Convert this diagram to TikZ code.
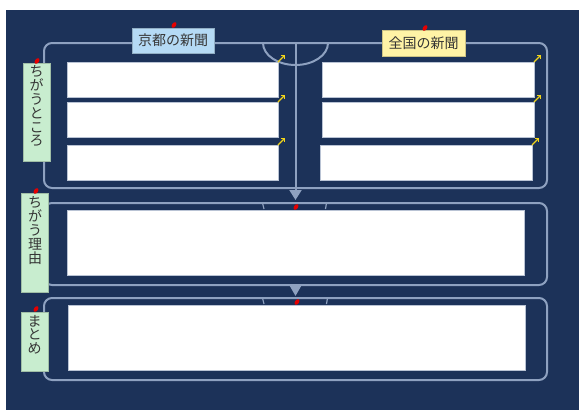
\documentclass[tikz,border=0pt]{standalone}
\usepackage{fontspec}
\newfontfamily\jpfont{Noto Sans CJK JP}
\usetikzlibrary{positioning}
\usetikzlibrary{arrows.meta,shapes.geometric}

\definecolor{navy}{HTML}{1C3259}
\definecolor{rail}{HTML}{8EA1C0}
\definecolor{slotedge}{HTML}{B9C3D4}
\definecolor{tagblue}{HTML}{B5DAF5}
\definecolor{tagyellow}{HTML}{FFF3A6}
\definecolor{taggreen}{HTML}{C8EDCF}
\definecolor{hintyellow}{HTML}{F2D51A}
\definecolor{inkgray}{HTML}{353535}

\begin{document}
\begin{tikzpicture} [x=1pt, y=-1pt,
	frame/.style={draw=rail, line width=2pt, rounded corners=8pt, minimum width=503pt, inner sep=0pt, outer sep=0pt},
	slot/.style={fill=white, draw=slotedge, line width=0.8pt, minimum height=35pt, inner sep=0pt, outer sep=0pt},
	wideslot/.style={slot, minimum width=457pt, minimum height=65pt},
	tag/.style={draw=#1!80!black, fill=#1, line width=0.6pt, inner sep=0pt},
	vtag/.style={tag=taggreen, minimum width=27pt},
	word/.style={text=inkgray, font=\jpfont\fontsize{14}{14}\selectfont},
	vword/.style={word, align=center, inner sep=0pt, font=\jpfont\fontsize{14}{13.8}\selectfont},
	tack/.style={ellipse, fill=red!90!black, minimum width=4pt, minimum height=6.5pt, inner sep=0pt, rotate=-35},
	hint/.style={color=hintyellow, line width=1.2pt, -{Straight Barb[length=2.5pt,width=5pt]}},
	railline/.style={color=rail, line width=2pt}]

\useasboundingbox (0,0) rectangle (579,410);
\fill [navy] (6,10) rectangle (579,410);

% frames
\node [frame, minimum height=145pt] (top)    at (295.5,115.5) {};
\node [frame, minimum height=82pt]  (reason) at (295.5,244)   {};
\node [frame, minimum height=82pt]  (sum)    at (295.5,339)   {};

\draw [railline] ([xshift=-32.5pt]top.north) arc [start angle=180, end angle=0, x radius=32.5, y radius=22];
\draw [color=rail, line width=1.2pt] ([xshift=-33pt]reason.north) -- ++(1.5,6);
\draw [color=rail, line width=1.2pt] ([xshift=31pt]reason.north) -- ++(-1,6);
\draw [color=rail, line width=1.2pt] ([xshift=-33pt]sum.north) -- ++(1.5,6);
\draw [color=rail, line width=1.2pt] ([xshift=32pt]sum.north) -- ++(-1,6);

\path [railline]
	(top.north)		edge [-{Triangle[width=12pt,length=10pt]}]	([yshift=3pt]reason.north)
	(reason.south)	edge [-{Triangle[width=12pt,length=11pt]}]	([yshift=2pt]sum.north);

% answer boxes
\node [slot, minimum width=211pt] (l1) at (172.5,79.5)  {};
\node [slot, minimum width=211pt] (l2) at (172.5,119.5) {};
\node [slot, minimum width=211pt] (l3) at (172.5,162.5) {};
\node [slot, minimum width=212pt] (r1) at (428,79.5)    {};
\node [slot, minimum width=212pt] (r2) at (428,119.5)   {};
\node [slot, minimum width=212pt] (r3) at (426,162.5)   {};
\node [wideslot] (why) at (295.5,242.5) {};
\node [wideslot] (end) at (296.5,337.5) {};

\draw [hint] (l1.north east) -- ++(7,-7);
\draw [hint] (l2.north east) -- ++(7,-7);
\draw [hint] (l3.north east) -- ++(7,-7);
\draw [hint] (r1.north east) -- ++(7,-7);
\draw [hint] (r2.north east) -- ++(7,-7);
\draw [hint] (r3.north east) -- ++(7,-7);

% headings
\node [tag=tagblue, minimum width=82pt, minimum height=25pt, word]   (kyoto) at (173,40.5) {京都の新聞};
\node [tag=tagyellow, minimum width=83pt, minimum height=26pt, word] (zenkoku) at (423.5,43) {全国の新聞};

\node [vtag, minimum height=98pt] (diff)    at (36.5,112)   {};
\node [vtag, minimum height=99pt] (cause)   at (35,242.5)   {};
\node [vtag, minimum height=59pt] (matome)  at (34.5,341.5) {};
\node [vword] (difftext)   [below=3pt of diff.north]   {ち\\が\\う\\と\\こ\\ろ};
\node [vword] (causetext)  [below=4pt of cause.north]  {ち\\が\\う\\理\\由};
\node [vword] (matometext) [below=3pt of matome.north] {ま\\と\\め};

% tacks
\node [tack] (t1) at (174,25)  {};
\node [tack] (t2) at (425,28)  {};
\node [tack] (t3) at (37,61)   {};
\node [tack] (t4) at (36,191)  {};
\node [tack] (t5) at (36,309)  {};
\node [tack] (t6) at (296,207) {};
\node [tack] (t7) at (297,302) {};

\end{tikzpicture}
\end{document}
